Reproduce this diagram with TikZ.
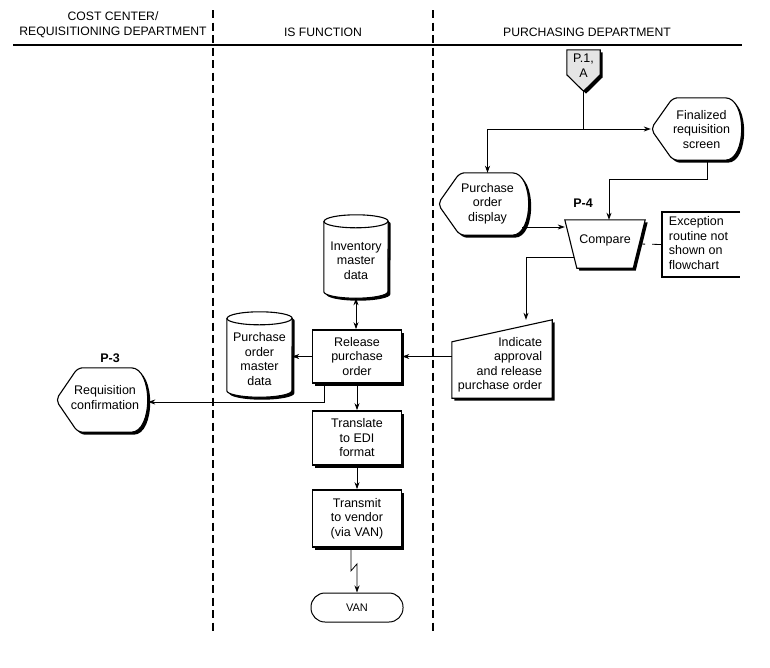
\documentclass[tikz,border=0pt]{standalone}
\usepackage{fontspec}
\setmainfont{Liberation Sans}
\usepackage{tikz}
\usetikzlibrary{arrows.meta}
\usetikzlibrary{shadows,backgrounds,calc}
\tikzstyle{arrow} = [line width=0.8pt,-{Stealth[length=7pt,width=5pt]}]
\tikzstyle{twoway} = [line width=0.8pt,{Stealth[length=7pt,width=5pt]}-{Stealth[length=7pt,width=5pt]}]
\tikzstyle{flowline} = [line width=0.8pt]
\tikzstyle{boxshadow} = [drop shadow={shadow xshift=2.5pt,shadow yshift=-2.5pt,fill=black,opacity=1}]
\tikzstyle{procbox} = [draw,line width=1.7pt,fill=white,boxshadow,minimum width=89pt,inner sep=0pt,align=center]
\tikzstyle{symbolbox} = [inner sep=0pt]
\tikzstyle{symbolline} = [draw,line width=1.1pt,fill=white,boxshadow]
\tikzstyle{reflabel} = [font=\fontsize{12.5}{14.5}\selectfont\bfseries]
\tikzstyle{lanehead} = [font=\fontsize{12.2}{14.7}\selectfont,align=center]
\tikzstyle{lanerule} = [line width=2pt,dash pattern=on 8pt off 4.5pt]

\newcommand{\blocktext}[4][c]{\raisebox{#3}[\height][\depth]{\hspace*{#2}\begin{tabular}{@{}#1@{}}#4\end{tabular}}}
\newcommand{\displayshape}[1]{\draw[symbolline,rounded corners=5pt] (#1.west) -- ($(#1.north west)+(22,0)$) -- ($(#1.north east)+(-22,0)$) .. controls ($(#1.north east)+(5,0)$) and ($(#1.south east)+(5,0)$) .. ($(#1.south east)+(-22,0)$) -- ($(#1.south west)+(22,0)$) -- cycle;}
\newcommand{\dbshape}[2]{\draw[symbolline] ($(#1.north west)+(0,6.5)$) -- ($(#1.south west)+(0,-6.5)$) arc[start angle=180,end angle=360,x radius=#2pt,y radius=6.5pt] -- ($(#1.north east)+(0,6.5)$) arc[start angle=0,end angle=180,x radius=#2pt,y radius=6.5pt] -- cycle;
\draw[line width=1.1pt] ($(#1.north west)+(0,6.5)$) arc[start angle=180,end angle=360,x radius=#2pt,y radius=6.5pt];}

\begin{document}
\begin{tikzpicture}[x=1pt,y=-1pt,font=\fontsize{12.5}{14.5}\selectfont]
\useasboundingbox (0,0) rectangle (770,667);

\node[lanehead] (hcost) at (113,24.5) {COST CENTER/\\REQUISITIONING DEPARTMENT};
\node[lanehead] (his) at (323,32) {IS FUNCTION};
\node[lanehead] (hpur) at (587,32) {PURCHASING DEPARTMENT};
\draw[line width=2.4pt] (13,45) -- (742,45);
\draw[lanerule] (213,10) -- (213,632);
\draw[lanerule] (433,10) -- (433,632);

\node[symbolbox,minimum width=33pt,minimum height=41pt] (p1a) at (583.5,70.5) {\blocktext{0pt}{3.5pt}{P.1,\\A}};
\node[symbolbox,minimum width=91pt,minimum height=62pt] (finreq) at (696.5,129) {\blocktext{10pt}{-2pt}{Finalized\\requisition\\screen}};
\node[symbolbox,minimum width=91pt,minimum height=62pt] (podisp) at (483.5,204) {\blocktext{8pt}{0pt}{Purchase\\order\\display}};
\node[reflabel] (p4) at (583,203) {P-4};
\node[symbolbox,minimum width=80pt,minimum height=48pt] (compare) at (605,244) {\blocktext{0pt}{3pt}{Compare}};
\node[symbolbox,minimum width=78pt,minimum height=65pt] (exc) at (701,244.5) {\blocktext[l]{-5pt}{0pt}{Exception\\routine not\\shown on\\flowchart}};
\node[symbolbox,minimum width=100pt,minimum height=78pt] (indic) at (502,359) {\blocktext[r]{-4pt}{-6pt}{Indicate\\approval\\and release\\purchase order}};
\node[procbox,minimum height=53pt] (release) at (357,356.5) {Release\\purchase\\order};
\node[symbolbox,minimum width=64pt,minimum height=83pt] (inv) at (356,256.5) {\blocktext{0pt}{-5.5pt}{Inventory\\master\\data}};
\node[symbolbox,minimum width=65pt,minimum height=85pt] (pomd) at (259.5,354.5) {\blocktext{0pt}{-6pt}{Purchase\\order\\master\\data}};
\node[reflabel] (p3) at (110,358) {P-3};
\node[symbolbox,minimum width=92pt,minimum height=64pt] (reqconf) at (102,400) {\blocktext{6pt}{1pt}{Requisition\\confirmation}};
\node[procbox,minimum height=54pt] (translate) at (357,438) {Translate\\to EDI\\format};
\node[procbox,minimum height=57pt] (transmit) at (357,518.5) {Transmit\\to vendor\\(via VAN)};
\node[draw,line width=1pt,rounded corners=14pt,minimum width=92pt,minimum height=29pt,font=\fontsize{11}{13}\selectfont] (van) at (357,607.5) {VAN};

\begin{scope}[on background layer]
\draw[symbolline,fill=black!10] (p1a.north west) -- (p1a.north east) -- ($(p1a.north east)+(0,25)$) -- (p1a.south) -- ($(p1a.north west)+(0,25)$) -- cycle;
\displayshape{finreq}
\displayshape{podisp}
\displayshape{reqconf}
\draw[symbolline] (compare.north west) -- (compare.north east) -- ($(compare.south east)+(-12,0)$) -- ($(compare.south west)+(12,0)$) -- cycle;
\draw[symbolline] (indic.south west) -- ($(indic.north west)+(0,22)$) -- (indic.north east) -- (indic.south east) -- cycle;
\dbshape{inv}{32}
\dbshape{pomd}{32.5}
\end{scope}
\draw[line width=1.6pt] (exc.north east) -- (exc.north west) -- (exc.south west) -- (exc.south east);

\draw[arrow] (p1a.south) |- (finreq.west);
\draw[arrow] (p1a.south |- finreq.west) -| ([xshift=4pt]podisp.north);
\draw[arrow] ([xshift=11pt]finreq.south) -- ++(0,19) -| ([xshift=4pt]compare.north);
\draw[arrow] ([xshift=-7pt,yshift=-23pt]podisp.east) -- ([yshift=-23pt]podisp.east -| compare.west);
\draw[flowline,dash pattern=on 6pt off 7pt on 10pt off 0pt] ([xshift=-6pt]compare.east) -- (exc.west);
\draw[arrow] ([xshift=9pt,yshift=-13pt]compare.west) -| ([xshift=24pt]indic.north);
\draw[arrow] (indic.west |- release.east) -- (release.east);
\draw[arrow] (release.west) -- (release.west -| pomd.east);
\draw[twoway] (inv.south) -- (inv.south |- release.north);
\draw[arrow] ([xshift=-33pt]release.south) |- ([yshift=-2pt]reqconf.east);
\draw[arrow] (release) -- (translate);
\draw[arrow] (translate) -- (transmit);
\draw[arrow] ([xshift=-6pt]transmit.south) -- ++(0,23) -- ++(6,-7) -- (van.north);
\end{tikzpicture}
\end{document}
